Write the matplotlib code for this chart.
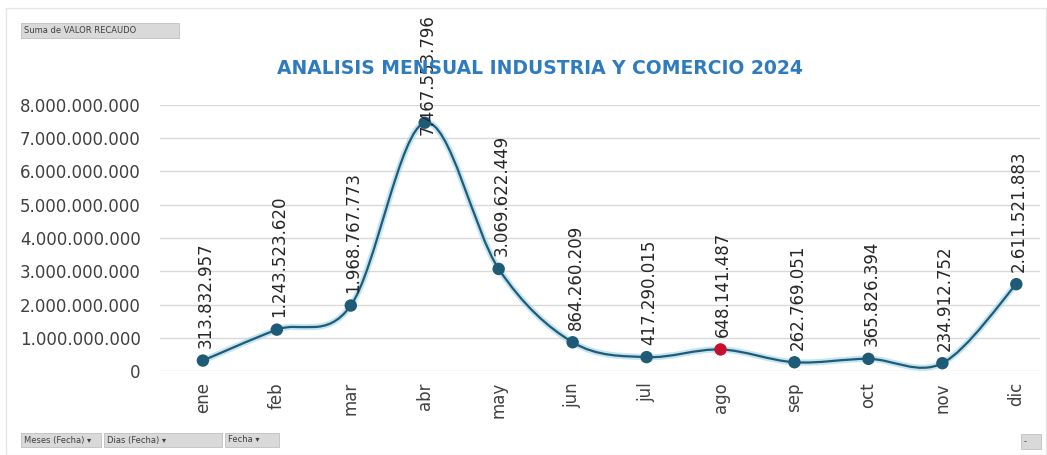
import matplotlib
matplotlib.use("Agg")
import matplotlib.pyplot as plt
import numpy as np
from matplotlib.path import Path
from matplotlib.patches import PathPatch, FancyBboxPatch
from matplotlib.ticker import FuncFormatter

# Monthly collected value (COP)
meses = ["ene", "feb", "mar", "abr", "may", "jun",
         "jul", "ago", "sep", "oct", "nov", "dic"]
valor_recaudo = [313832957, 1243523620, 1968767773, 7467553796, 3069622449,
                 864260209, 417290015, 648141487, 262769051, 365826394,
                 234912752, 2611521883]
y_ticks = [0, 1e9, 2e9, 3e9, 4e9, 5e9, 6e9, 7e9, 8e9]
mes_destacado = "ago"

LINE = "#1f5b76"
GLOW = "#9fd3ea"
HIGHLIGHT = "#c8102e"
TITLE_BLUE = "#2f7bbf"
TEXT_GRAY = "#404040"


def dotted(v):
    return f"{int(round(v)):,}".replace(",", ".")


def smooth_path(xs, ys):
    # Excel-style smoothed line: cubic Bezier through every point
    pts = np.column_stack([xs, ys]).astype(float)
    n = len(pts)
    verts = [pts[0]]
    codes = [Path.MOVETO]
    for i in range(n - 1):
        p0 = pts[i - 1] if i > 0 else pts[i]
        p1 = pts[i]
        p2 = pts[i + 1]
        p3 = pts[i + 2] if i + 2 < n else pts[i + 1]
        c1 = p1 + (p2 - p0) / 6.0
        c2 = p2 - (p3 - p1) / 6.0
        verts += [c1, c2, p2]
        codes += [Path.CURVE4] * 3
    return Path(verts, codes)


fig = plt.figure(figsize=(10.47, 4.55), dpi=100)
ax = fig.add_axes([160 / 1047, 1 - 371 / 455, 880 / 1047, 266 / 455])

x = np.arange(len(meses))
ax.set_xlim(-0.58, 11.32)
ax.set_ylim(0, 8e9)

# glow under the line, then the line itself
ax.add_patch(PathPatch(smooth_path(x, valor_recaudo), fill=False,
                       edgecolor=GLOW, lw=4.5, alpha=0.6, clip_on=False, zorder=2))
ax.add_patch(PathPatch(smooth_path(x, valor_recaudo), fill=False,
                       edgecolor=LINE, lw=1.6, clip_on=False, zorder=3))

colores = [HIGHLIGHT if m == mes_destacado else LINE for m in meses]
ax.scatter(x, valor_recaudo, s=80, c=colores, edgecolors="none",
           zorder=4, clip_on=False)

# rotated value labels; the April one is pulled down to stay inside the chart
for xi, v, m in zip(x, valor_recaudo, meses):
    off = -9 if m == "abr" else 9
    ax.annotate(dotted(v), (xi, v), xytext=(2, off), textcoords="offset points",
                rotation=90, ha="center", va="bottom", fontsize=12,
                color="#262626", annotation_clip=False, zorder=5)

ax.set_yticks(y_ticks)
ax.yaxis.set_major_formatter(FuncFormatter(lambda v, p: dotted(v)))
ax.set_xticks(x)
ax.set_xticklabels(meses, rotation=90)
ax.tick_params(axis="y", length=0, pad=14, labelsize=12, labelcolor=TEXT_GRAY)
ax.tick_params(axis="x", length=0, pad=8, labelsize=12, labelcolor=TEXT_GRAY)
ax.grid(axis="y", color="#d9d9d9", lw=1)
ax.set_axisbelow(True)
for s in ax.spines.values():
    s.set_visible(False)

fig.text(540 / 1047, 1 - 68 / 455, "ANALISIS MENSUAL INDUSTRIA Y COMERCIO 2024",
         ha="center", va="center", fontsize=13.5, fontweight="bold",
         color=TITLE_BLUE, family="DejaVu Sans")

# pivot chart field buttons
def field_button(x0, y0, w, h, label):
    fig.patches.append(FancyBboxPatch((x0 / 1047, 1 - (y0 + h) / 455), w / 1047, h / 455,
                                      boxstyle="square,pad=0", transform=fig.transFigure,
                                      facecolor="#d9d9d9", edgecolor="#bfbfbf", lw=0.6))
    fig.text((x0 + 3) / 1047, 1 - (y0 + h / 2) / 455, label, ha="left", va="center",
             fontsize=6, color="#404040")

field_button(21, 23, 158, 15, "Suma de VALOR RECAUDO")
field_button(21, 433, 80, 14, "Meses (Fecha) \u25be")
field_button(104, 433, 118, 14, "Dias (Fecha) \u25be")
field_button(225, 433, 54, 14, "Fecha \u25be")
field_button(1021, 434, 20, 15, "-")

# chart area border
fig.patches.append(FancyBboxPatch((6 / 1047, 0), 1040 / 1047, 1 - 8 / 455,
                                  boxstyle="square,pad=0", transform=fig.transFigure,
                                  facecolor="none", edgecolor="#e6e6e6", lw=1))

fig.savefig("out.png", dpi=100)
